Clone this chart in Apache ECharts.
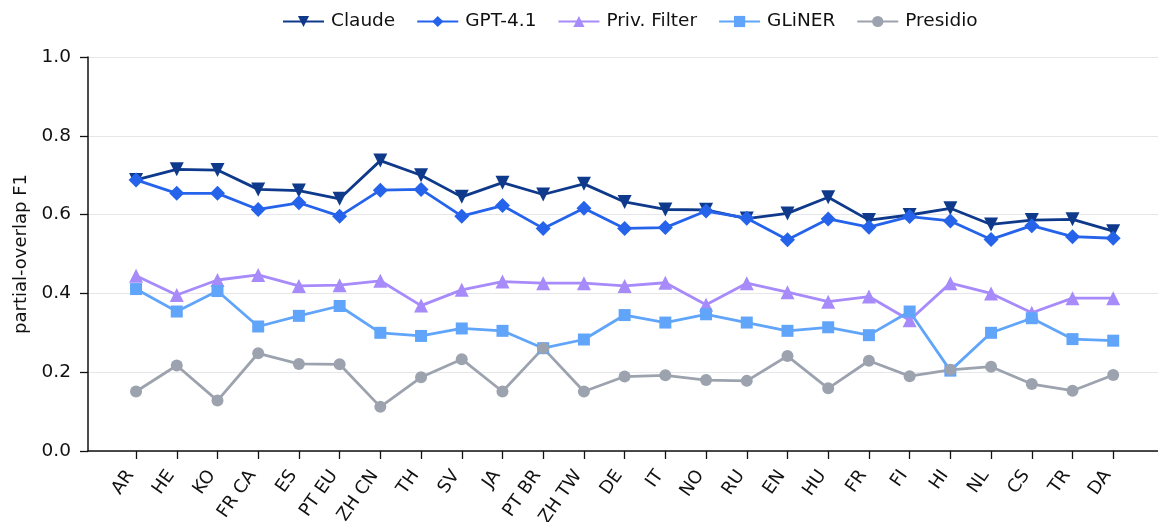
<!DOCTYPE html>
<html>
<head>
<meta charset="utf-8">
<script src="https://cdn.jsdelivr.net/npm/echarts@6/dist/echarts.min.js"></script>
<style>
    html, body { margin: 0; padding: 0; background: #fff; }
    #chart { width: 1158px; height: 522px; }
</style>
</head>
<body>
<div id="chart"></div>
<script>
const languages = ['AR', 'HE', 'KO', 'FR CA', 'ES', 'PT EU', 'ZH CN', 'TH', 'SV', 'JA', 'PT BR', 'ZH TW', 'DE',
    'IT', 'NO', 'RU', 'EN', 'HU', 'FR', 'FI', 'HI', 'NL', 'CS', 'TR', 'DA']

const claude = [0.688, 0.715, 0.713, 0.664, 0.661, 0.640, 0.737, 0.700, 0.645, 0.681, 0.651, 0.678, 0.632,
    0.613, 0.612, 0.590, 0.603, 0.644, 0.586, 0.599, 0.616, 0.575, 0.586, 0.588, 0.558]
const gpt41 = [0.688, 0.654, 0.654, 0.613, 0.630, 0.596, 0.662, 0.664, 0.596, 0.623, 0.565, 0.616, 0.565,
    0.567, 0.609, 0.591, 0.536, 0.589, 0.568, 0.595, 0.584, 0.537, 0.572, 0.544, 0.540]
const privFilter = [0.445, 0.396, 0.434, 0.447, 0.419, 0.421, 0.432, 0.369, 0.409, 0.430, 0.426, 0.426, 0.419,
    0.427, 0.371, 0.426, 0.403, 0.379, 0.392, 0.332, 0.426, 0.400, 0.351, 0.388, 0.388]
const gliner = [0.411, 0.354, 0.406, 0.316, 0.343, 0.368, 0.300, 0.292, 0.311, 0.305, 0.261, 0.283, 0.345,
    0.326, 0.347, 0.326, 0.305, 0.314, 0.294, 0.354, 0.204, 0.300, 0.337, 0.284, 0.280]
const presidio = [0.151, 0.217, 0.128, 0.248, 0.221, 0.220, 0.112, 0.187, 0.233, 0.151, 0.261, 0.151, 0.189,
    0.192, 0.180, 0.178, 0.241, 0.159, 0.229, 0.190, 0.206, 0.214, 0.170, 0.153, 0.193]

const yTicks = [0, 0.2, 0.4, 0.6, 0.8, 1.0]

const FONT = 'DejaVu Sans'
const tickIdx = languages.map((_, i) => i)

function mkSeries(name, values, color, symbol, size) {
    return {
        name,
        type: 'line',
        data: values.map((v, i) => [i, v]),
        symbol,
        symbolSize: size,
        lineStyle: { color, width: 2.8 },
        itemStyle: { color },
        emphasis: { disabled: true }
    }
}

const chart = echarts.init(document.getElementById('chart'), null, { renderer: 'canvas' })
chart.setOption({
    animation: false,
    textStyle: { fontFamily: FONT },
    legend: {
        top: 7,
        left: 277,
        itemWidth: 41,
        itemHeight: 14,
        itemGap: 21,
        textStyle: { fontFamily: FONT, fontSize: 18.5, color: '#111', padding: [0, 0, 0, 2] }
    },
    grid: { left: 88, right: 0, top: 57, bottom: 71, containLabel: false, outerBoundsMode: 'none' },
    xAxis: {
        type: 'value',
        min: -1.18,
        max: 25.1,
        splitLine: { show: false },
        axisLine: { show: true, onZero: false, lineStyle: { color: '#111', width: 1.5 } },
        axisTick: { show: true, length: 8, customValues: tickIdx, lineStyle: { color: '#111', width: 1.3 } },
        axisLabel: {
            customValues: tickIdx,
            formatter: v => languages[Math.round(v)],
            rotate: 55,
            fontSize: 18,
            color: '#111',
            margin: 13,
            padding: [0, 10, 0, 0]
        }
    },
    yAxis: {
        type: 'value',
        min: 0,
        max: 1,
        interval: 0.2,
        name: 'partial-overlap F1',
        nameLocation: 'middle',
        nameGap: 58,
        nameTextStyle: { fontFamily: FONT, fontSize: 18, color: '#111' },
        axisLine: { show: true, onZero: false, lineStyle: { color: '#111', width: 1.5 } },
        axisTick: { show: true, length: 8, customValues: yTicks, lineStyle: { color: '#111', width: 1.3 } },
        axisLabel: { fontSize: 18.5, color: '#111', margin: 17, formatter: v => v.toFixed(1) },
        splitLine: { show: true, lineStyle: { color: '#e6e6ea', width: 1.2 } }
    },
    series: [
        mkSeries('Claude', claude, '#0f3a8c', 'path://M0,0 L10,0 L5,9 Z', 14),
        mkSeries('GPT-4.1', gpt41, '#2563eb', 'diamond', 15),
        mkSeries('Priv. Filter', privFilter, '#a78bfa', 'triangle', 14),
        mkSeries('GLiNER', gliner, '#60a5fa', 'rect', 12),
        mkSeries('Presidio', presidio, '#9ca3af', 'circle', 12)
    ]
})
</script>
</body>
</html>
